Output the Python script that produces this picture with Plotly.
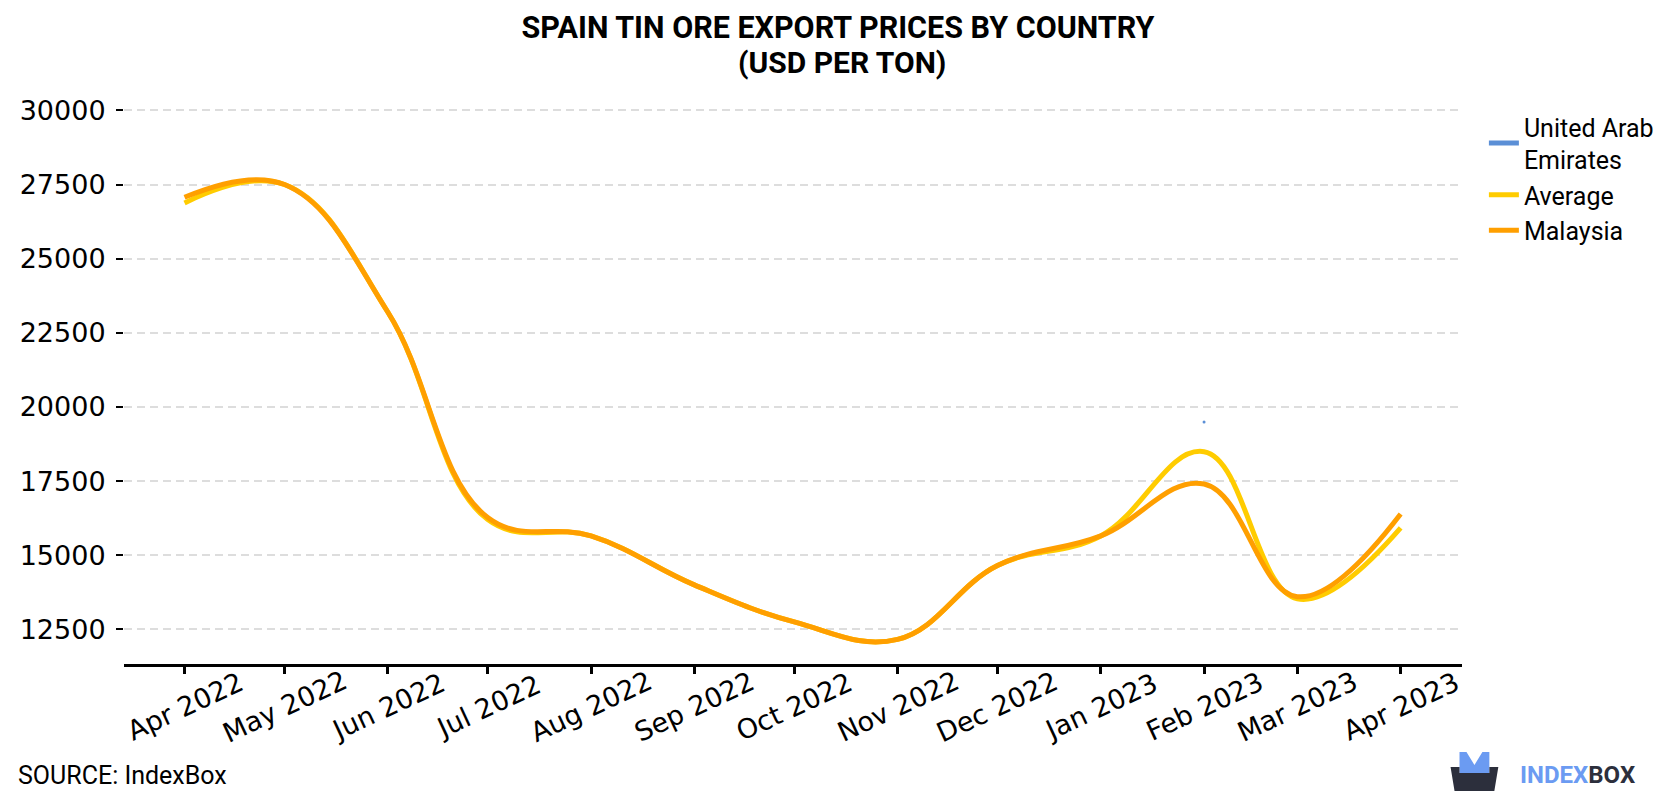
import plotly.graph_objects as go

# ---------------- data ----------------
months = ['2022-04-01', '2022-05-01', '2022-06-01', '2022-07-01', '2022-08-01',
          '2022-09-01', '2022-10-01', '2022-11-01', '2022-12-01', '2023-01-01',
          '2023-02-01', '2023-03-01', '2023-04-01']
tick_labels = ['Apr 2022', 'May 2022', 'Jun 2022', 'Jul 2022', 'Aug 2022',
               'Sep 2022', 'Oct 2022', 'Nov 2022', 'Dec 2022', 'Jan 2023',
               'Feb 2023', 'Mar 2023', 'Apr 2023']
malaysia = [27070, 27500, 23200, 16270, 15650, 14000, 12750, 12160, 14650,
            15650, 17400, 13600, 16390]
average = [26880, 27500, 23200, 16200, 15650, 14000, 12750, 12160, 14650,
           15650, 18490, 13530, 15920]
uae_months = ['2023-02-01']
uae = [19490]
y_ticks = [12500, 15000, 17500, 20000, 22500, 25000, 27500, 30000]

# ---------------- layout geometry (page offset of 8px from body margin) ----------------
OFF = 8
W, H = 1680 - OFF, 800 - OFF
L = 118 - OFF            # plot left in figure px
PR = 1462.5 - OFF        # plot right
PT = 100 - OFF           # plot top
PB = 664 - OFF           # plot bottom
R, T, B = W - PR, PT, H - PB
PW, PH = PR - L, PB - PT


def px2x(page_px):
    return (page_px - OFF - L) / PW


def py2y(page_py):
    return (PB - (page_py - OFF)) / PH


C_UAE = '#5b8fd6'
C_AVG = '#ffcc00'
C_MYS = '#ff9f00'
SMOOTH = 1.15

fig = go.Figure()
fig.add_trace(go.Scatter(x=uae_months, y=uae, name='United Arab<br>Emirates',
                         mode='lines+markers', line=dict(color=C_UAE, width=5),
                         marker=dict(size=3, color=C_UAE)))
fig.add_trace(go.Scatter(x=months, y=average, name='Average', mode='lines',
                         line=dict(color=C_AVG, width=5, shape='spline', smoothing=SMOOTH)))
fig.add_trace(go.Scatter(x=months, y=malaysia, name='Malaysia', mode='lines',
                         line=dict(color=C_MYS, width=5, shape='spline', smoothing=SMOOTH)))

annotations = []
for m, lab in zip(months, tick_labels):
    annotations.append(dict(x=m, xref='x', y=0, yref='paper', yshift=-(706 - 664),
                            text=lab, showarrow=False, textangle=-25,
                            xanchor='center', yanchor='middle',
                            font=dict(family='DejaVu Sans', size=27, color='#000')))

# second title line
annotations.append(dict(x=px2x(839), y=py2y(62), xref='paper', yref='paper',
                        text='<b>(USD PER TON)</b>', showarrow=False,
                        xanchor='center', yanchor='middle',
                        font=dict(family='Roboto', size=30, color='#000')))

annotations.append(dict(x=px2x(9), y=py2y(775), xref='paper', yref='paper',
                        text='SOURCE: IndexBox', showarrow=False,
                        xanchor='left', yanchor='middle',
                        font=dict(family='Roboto', size=25, color='#000')))
annotations.append(dict(x=px2x(1638), y=py2y(775), xref='paper', yref='paper',
                        text="<b><span style='color:#6b9bf2'>INDEX</span>"
                             "<span style='color:#2c2f3c'>BOX</span></b>",
                        showarrow=False, xanchor='right', yanchor='middle',
                        font=dict(family='Roboto', size=24)))


def path(pts):
    return 'M ' + ' L '.join(f'{px2x(a):.5f},{py2y(b):.5f}' for a, b in pts) + ' Z'


shapes = [
    dict(type='path', xref='paper', yref='paper', layer='above',
         path=path([(1460, 752), (1467, 752), (1475, 765), (1483, 752), (1490, 752),
                    (1490, 775), (1460, 775)]),
         fillcolor='#6b9bf2', line=dict(width=0)),
    dict(type='path', xref='paper', yref='paper', layer='above',
         path=path([(1451, 767), (1460, 767), (1460, 773), (1490, 773), (1490, 767),
                    (1499, 767), (1495, 791), (1455, 791)]),
         fillcolor='#2c2f3c', line=dict(width=0)),
]

fig.update_layout(
    width=W, height=H,
    margin=dict(l=L, r=R, t=T, b=B),
    paper_bgcolor='white', plot_bgcolor='white',
    title=dict(text='<b>SPAIN TIN ORE EXPORT PRICES BY COUNTRY</b>',
               x=(838 - OFF) / W, xref='container', xanchor='center',
               y=1 - (27 - OFF) / H, yref='container', yanchor='middle',
               font=dict(family='Roboto', size=30.5, color='#000')),
    showlegend=True,
    legend=dict(x=px2x(1484.5), y=py2y(104), xanchor='left', yanchor='top',
                font=dict(family='Roboto', size=25, color='#000'),
                bgcolor='rgba(0,0,0,0)'),
    xaxis=dict(type='date', range=['2022-03-13 20:00', '2023-04-19 10:00'],
               tickvals=months, showticklabels=False, ticks='outside', ticklen=7,
               tickwidth=2.5, tickcolor='#000', showline=True, linewidth=3,
               linecolor='#000', showgrid=False, zeroline=False),
    yaxis=dict(range=[11331, 30350], tickvals=y_ticks,
               ticktext=[str(v) for v in y_ticks], ticks='outside', ticklen=7,
               tickwidth=2, tickcolor='#000', showline=False, zeroline=False,
               showgrid=True, gridcolor='#dddddd', gridwidth=2, griddash='8px,5px',
               ticklabelstandoff=5,
               tickfont=dict(family='DejaVu Sans', size=27, color='#000')),
    annotations=annotations,
    shapes=shapes,
    hovermode=False,
)

fig.write_html('out.html')
